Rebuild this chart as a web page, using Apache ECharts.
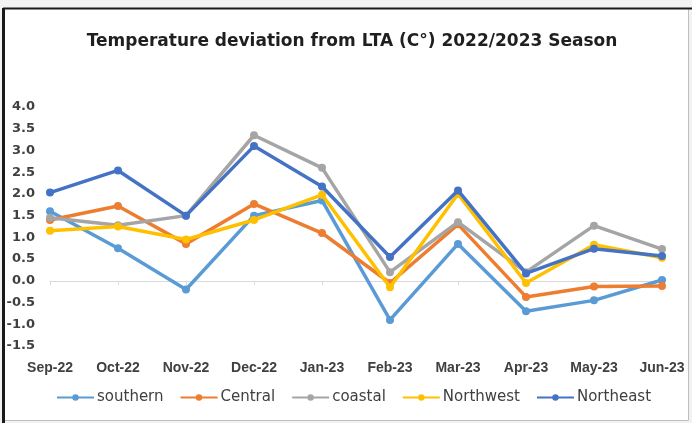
<!DOCTYPE html>
<html>
<head>
<meta charset="utf-8">
<script src="https://cdn.jsdelivr.net/npm/echarts@6/dist/echarts.min.js"></script>
<style>
  html, body { margin: 0; padding: 0; background: #f2f2f2; }
  #chart { width: 692px; height: 423px; }
</style>
</head>
<body>
<div id="chart"></div>
<script>
// Monthly temperature deviation from the long-term average, by region
const months = ['Sep-22', 'Oct-22', 'Nov-22', 'Dec-22', 'Jan-23', 'Feb-23', 'Mar-23', 'Apr-23', 'May-23', 'Jun-23'];
const southern  = [1.6, 0.75, -0.2, 1.5, 1.85, -0.9, 0.85, -0.7, -0.45, 0.02];
const central   = [1.4, 1.72, 0.85, 1.77, 1.1, -0.05, 1.3, -0.37, -0.13, -0.12];
const coastal   = [1.45, 1.28, 1.5, 3.35, 2.6, 0.2, 1.35, 0.2, 1.27, 0.73];
const northwest = [1.15, 1.25, 0.95, 1.4, 1.98, -0.15, 2.0, -0.05, 0.83, 0.53];
const northeast = [2.03, 2.54, 1.5, 3.1, 2.17, 0.55, 2.08, 0.17, 0.74, 0.57];

const seriesNames  = ['southern', 'Central', 'coastal', 'Northwest', 'Northeast'];
const seriesValues = [southern, central, coastal, northwest, northeast];
const seriesColors = ['#5b9bd5', '#ed7d31', '#a5a5a5', '#ffc000', '#4472c4'];

const FONT = '"DejaVu Sans", "Liberation Sans", sans-serif';
const AXIS_FONT = '"Liberation Sans", "DejaVu Sans", sans-serif';

const chart = echarts.init(document.getElementById('chart'), null, { renderer: 'canvas' });

chart.setOption({
  backgroundColor: '#f2f2f2',
  animation: false,
  graphic: [
    {
      type: 'rect',
      shape: { x: 3.5, y: 8.5, width: 685, height: 412 },
      style: { fill: '#ffffff', stroke: '#bfbfbf', lineWidth: 1 },
      z: -10
    },
    {
      type: 'line',
      shape: { x1: 3, y1: 8.5, x2: 692, y2: 8.5 },
      style: { stroke: '#1a1a1a', lineWidth: 2 },
      z: -9
    },
    {
      type: 'line',
      shape: { x1: 3.5, y1: 8, x2: 3.5, y2: 423 },
      style: { stroke: '#1a1a1a', lineWidth: 3 },
      z: -9
    }
  ],
  title: {
    text: 'Temperature deviation from LTA (C°) 2022/2023 Season',
    left: 347,
    top: 28,
    textAlign: 'center',
    textStyle: { fontFamily: FONT, fontSize: 17, fontWeight: 'bold', color: '#1f1f1f' }
  },
  legend: {
    data: seriesNames,
    bottom: 13,
    left: 51,
    itemWidth: 37,
    itemHeight: 8,
    itemGap: 16,
    textStyle: { fontFamily: FONT, fontSize: 15, color: '#404040', padding: [0, 0, 0, -2] }
  },
  grid: { left: 50, right: 30, top: 107, bottom: 77, containLabel: false },
  xAxis: [
    {
      type: 'category',
      data: months,
      boundaryGap: false,
      axisLine: { onZero: true, lineStyle: { color: '#d9d9d9', width: 1 } },
      axisTick: { show: true, length: 4, lineStyle: { color: '#d9d9d9' } },
      axisLabel: { show: false },
      splitLine: { show: false }
    },
    {
      type: 'category',
      data: months,
      boundaryGap: false,
      position: 'bottom',
      axisLine: { show: false, onZero: false },
      axisTick: { show: false },
      axisLabel: { interval: 0, margin: 15, fontFamily: AXIS_FONT, fontSize: 14, fontWeight: 'bold', color: '#404040' },
      splitLine: { show: false }
    }
  ],
  yAxis: {
    type: 'value',
    min: -1.5,
    max: 4,
    interval: 0.5,
    axisLine: { show: false },
    axisTick: { show: false },
    splitLine: { show: false },
    axisLabel: {
      margin: 15,
      fontFamily: FONT,
      fontSize: 13,
      fontWeight: 'bold',
      color: '#404040',
      formatter: v => v.toFixed(1)
    }
  },
  series: seriesNames.map((name, i) => ({
    name: name,
    type: 'line',
    data: seriesValues[i],
    xAxisIndex: 0,
    symbol: 'circle',
    symbolSize: 8,
    lineStyle: { width: 3.5, color: seriesColors[i] },
    itemStyle: { color: seriesColors[i] },
    z: 2 + i
  }))
});
</script>
</body>
</html>
